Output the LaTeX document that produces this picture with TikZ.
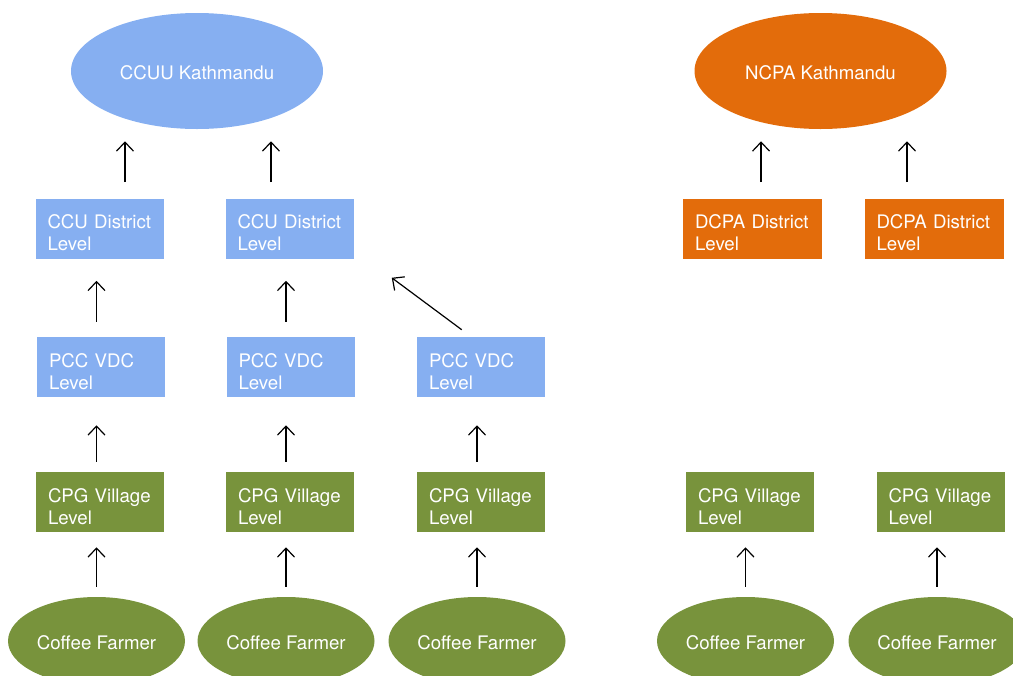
\documentclass[tikz,border=0pt]{standalone}
\usepackage{fontspec}
\setmainfont{TeX Gyre Heros}
\usetikzlibrary{arrows.meta,shapes.geometric}

\definecolor{ccublue}{HTML}{86AFF1}
\definecolor{cpggreen}{HTML}{78933C}
\definecolor{ncpaorange}{HTML}{E36C0B}

\begin{document}
\begin{tikzpicture}[x=0.75pt,y=-0.75pt,
   every node/.style={text=white,font=\fontsize{14}{16.5}\selectfont},
   level box/.style={rectangle,fill=#1,inner xsep=9pt,inner ysep=0pt,
      text width=78pt,text height=11.5pt,text depth=11.5pt,
      minimum height=45pt,align=left},
   wide box/.style={level box=#1,text width=86.25pt},
   top node/.style={ellipse,fill=#1,inner sep=0pt,text height=12.5pt,text depth=0pt,
      minimum width=189pt,minimum height=87pt},
   farmer node/.style={ellipse,fill=cpggreen,inner sep=0pt,text height=12pt,text depth=0pt,
      minimum width=132.75pt,minimum height=66pt}]

\tikzstyle {link} = [-{Straight Barb[length=6.75pt,width=12.75pt]}, line width=0.9pt, black];

\useasboundingbox (0,0) rectangle (1013,675);
\clip (0,0) rectangle (1013,675);

% top level
\node[top node=ccublue] (ccuu) at (197,71){CCUU Kathmandu};
\node[top node=ncpaorange] (ncpa) at (820.5,71){NCPA Kathmandu};

% district level
\node[level box=ccublue] (ccu1) at (99.5,228.5){CCU District Level};
\node[level box=ccublue] (ccu2) at (289.5,228.5){CCU District Level};
\node[wide box=ncpaorange] (dcpa1) at (752.5,228.5){DCPA District Level};
\node[wide box=ncpaorange] (dcpa2) at (934,228.5){DCPA District Level};

% vdc level
\node[level box=ccublue] (pcc1) at (101,367){PCC VDC Level};
\node[level box=ccublue] (pcc2) at (290.5,367){PCC VDC Level};
\node[level box=ccublue] (pcc3) at (481,367){PCC VDC Level};

% village level
\node[level box=cpggreen] (cpg1) at (100,502){CPG Village Level};
\node[level box=cpggreen] (cpg2) at (290,502){CPG Village Level};
\node[level box=cpggreen] (cpg3) at (481,502){CPG Village Level};
\node[level box=cpggreen] (cpg4) at (750,502){CPG Village Level};
\node[level box=cpggreen] (cpg5) at (940.5,502){CPG Village Level};

% farmers
\node[farmer node] (farmer1) at (96.5,641){Coffee Farmer};
\node[farmer node] (farmer2) at (286,641){Coffee Farmer};
\node[farmer node] (farmer3) at (477,641){Coffee Farmer};
\node[farmer node] (farmer4) at (745.5,641){Coffee Farmer};
\node[farmer node] (farmer5) at (937,641){Coffee Farmer};

%\draw [link] (pcc3) -- (ccu2);

\path (farmer1.north) edge [link, shorten <=7.5pt, shorten >=11.25pt] (farmer1.north |- cpg1.south);
\path (farmer2.north) edge [link, shorten <=7.5pt, shorten >=11.25pt] (farmer2.north |- cpg2.south);
\path (farmer3.north) edge [link, shorten <=7.5pt, shorten >=11.25pt] (farmer3.north |- cpg3.south);
\path (farmer4.north) edge [link, shorten <=7.5pt, shorten >=11.25pt] (farmer4.north |- cpg4.south);
\path (farmer5.north) edge [link, shorten <=7.5pt, shorten >=11.25pt] (farmer5.north |- cpg5.south);

\path (cpg1.north -| farmer1) edge [link, shorten <=7.5pt, shorten >=21pt] (pcc1.south -| farmer1);
\path (cpg2.north -| farmer2) edge [link, shorten <=7.5pt, shorten >=21pt] (pcc2.south -| farmer2);
\path (cpg3.north -| farmer3) edge [link, shorten <=7.5pt, shorten >=21pt] (pcc3.south -| farmer3);

\path (pcc1.north -| farmer1) edge [link, shorten <=11.25pt, shorten >=16.5pt] (ccu1.south -| farmer1);
\path (pcc2.north -| farmer2) edge [link, shorten <=11.25pt, shorten >=16.5pt] (ccu2.south -| farmer2);
\path ([xshift=33.75pt,yshift=5.25pt]pcc3.north west) edge [link] ([xshift=28.5pt,yshift=-14.25pt]ccu2.south east);

\path ([xshift=19.1pt]ccu1.north) edge [link, shorten <=12pt, shorten >=9pt] ([xshift=19.1pt]ccu1.north |- ccuu.south);
\path ([xshift=-13.9pt]ccu2.north) edge [link, shorten <=12pt, shorten >=9pt] ([xshift=-13.9pt]ccu2.north |- ccuu.south);
\path ([xshift=6.4pt]dcpa1.north) edge [link, shorten <=12pt, shorten >=9pt] ([xshift=6.4pt]dcpa1.north |- ncpa.south);
\path ([xshift=-20.25pt]dcpa2.north) edge [link, shorten <=12pt, shorten >=9pt] ([xshift=-20.25pt]dcpa2.north |- ncpa.south);

\end{tikzpicture}
\end{document}
